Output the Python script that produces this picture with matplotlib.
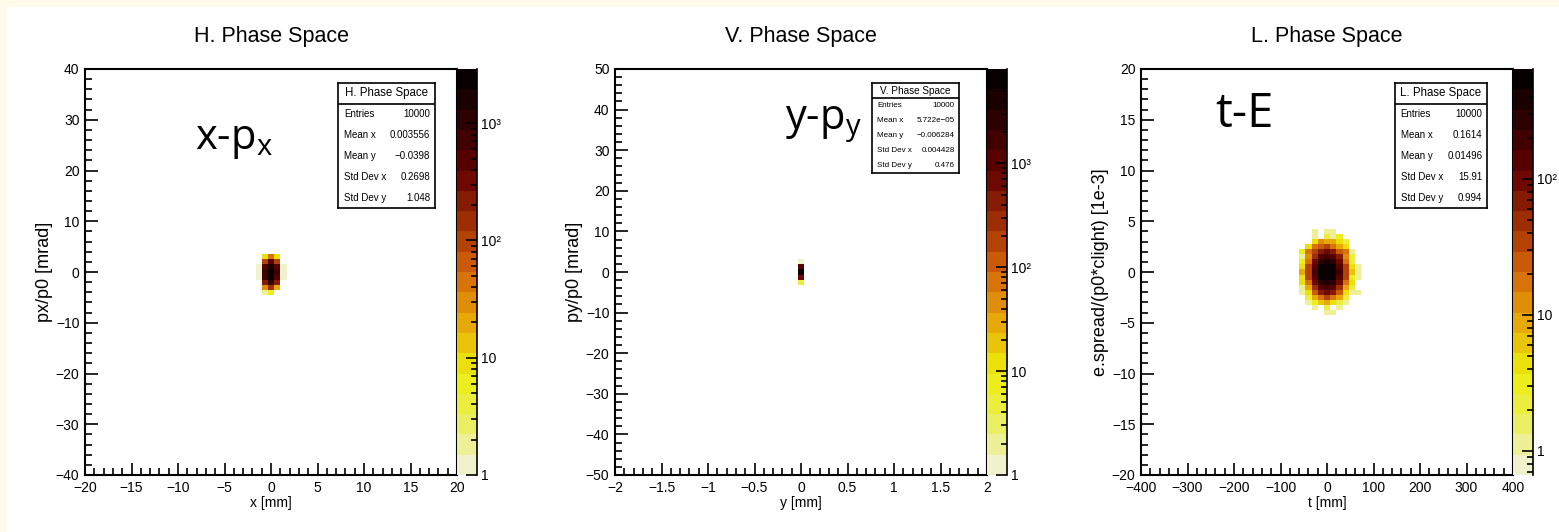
import numpy as np
import matplotlib.pyplot as plt
from matplotlib.colors import LinearSegmentedColormap, ListedColormap, LogNorm
from matplotlib.patches import Rectangle
from matplotlib.ticker import MultipleLocator, FuncFormatter, LogLocator, FixedLocator

plt.rcParams['font.family'] = ['Liberation Sans', 'DejaVu Sans']
plt.rcParams['mathtext.fontset'] = 'custom'
plt.rcParams['mathtext.rm'] = 'Open Sans'

W, H = 1559, 532

# --- chart data ---
titles = ["H. Phase Space", "V. Phase Space", "L. Phase Space"]
big_labels = [r"x-p$_\mathrm{x}$", r"y-p$_\mathrm{y}$", "t-E"]
x_titles = ["x [mm]", "y [mm]", "t [mm]"]
y_titles = ["px/p0 [mrad]", "py/p0 [mrad]", "e.spread/(p0*clight) [1e-3]"]
x_ranges = [(-20, 20), (-2, 2), (-400, 400)]
y_ranges = [(-40, 40), (-50, 50), (-20, 20)]
nbins_x, nbins_y = 60, 80

stat_names = ["Entries", "Mean x", "Mean y", "Std Dev x", "Std Dev y"]
h_stats = ["10000", "0.003556", "\u22120.0398", "0.2698", "1.048"]
v_stats = ["10000", "5.722e\u221205", "\u22120.006284", "0.004428", "0.476"]
l_stats = ["10000", "0.1614", "0.01496", "15.91", "0.994"]

# bin indices (bin centre = index * bin width), rows listed from top to bottom
h_cols = [-2, -1, 0, 1, 2]
h_rows = [3, 2, 1, 0, -1, -2, -3, -4]
h_counts = [
    [0, 8, 45, 10, 0],
    [0, 90, 420, 100, 0],
    [1, 480, 1600, 450, 1],
    [1, 620, 2900, 650, 1],
    [1, 600, 2500, 580, 1],
    [0, 220, 900, 240, 0],
    [0, 35, 120, 20, 0],
    [0, 2, 6, 0, 0],
]

v_cols = [0]
v_rows = [2, 1, 0, -1, -2]
v_counts = [[1], [1000], [8100], [850], [6]]

l_cols = [-4, -3, -2, -1, 0, 1, 2, 3, 4, 5]
l_rows = [8, 7, 6, 5, 4, 3, 2, 1, 0, -1, -2, -3, -4, -5, -6, -7, -8]
l_counts = [
    [0, 0, 1, 0, 1, 1, 0, 0, 0, 0],
    [0, 0, 1, 0, 2, 1, 3, 0, 0, 0],
    [0, 0, 4, 12, 10, 8, 5, 2, 0, 0],
    [0, 4, 20, 25, 30, 20, 10, 4, 0, 0],
    [3, 15, 30, 70, 90, 70, 25, 15, 1, 0],
    [1, 12, 55, 150, 200, 150, 60, 12, 2, 0],
    [3, 20, 110, 280, 390, 280, 100, 20, 2, 0],
    [4, 30, 150, 470, 560, 460, 150, 30, 4, 1],
    [10, 35, 170, 460, 640, 470, 170, 30, 6, 1],
    [5, 30, 150, 460, 570, 470, 150, 30, 3, 1],
    [5, 20, 100, 280, 390, 280, 100, 20, 5, 0],
    [1, 10, 55, 150, 210, 150, 55, 10, 2, 0],
    [1, 5, 25, 70, 90, 65, 25, 5, 1, 1],
    [0, 2, 8, 20, 30, 20, 8, 2, 0, 0],
    [0, 1, 3, 6, 8, 4, 2, 1, 0, 0],
    [0, 0, 1, 0, 2, 0, 1, 0, 0, 0],
    [0, 0, 0, 0, 1, 1, 0, 0, 0, 0],
]

z_min = [1, 1, 0.665]

# ROOT kDarkBodyRadiator, inverted, 20 levels
dbr = [(0, 0, 0), (45, 0, 1), (99, 0, 1), (156, 45, 3), (212, 101, 9),
       (230, 168, 8), (237, 238, 11), (234, 238, 95), (242, 243, 230)]
base = LinearSegmentedColormap.from_list("dbr", [tuple(c / 255 for c in rgb) for rgb in dbr])
palette = ListedColormap([base(1 - (i + 0.5) / 20) for i in range(20)])


def px_rect(left, top, width, height):
    return [left / W, 1 - (top + height) / H, width / W, height / H]


def fmt_num(v, pos=None):
    return ("%g" % v).replace("-", "\u2212")


def fmt_pow(v, pos=None):
    e = int(round(np.log10(v)))
    return {0: "1", 1: "10", 2: "10\u00b2", 3: "10\u00b3", 4: "10\u2074"}[e]


fig = plt.figure(figsize=(W / 100, H / 100), dpi=100)
fig.patch.set_facecolor("#fffbea")
fig.add_artist(Rectangle((7 / W, 0), 1, (H - 7) / H, transform=fig.transFigure,
                         facecolor="white", edgecolor="none", zorder=-10))

ax_left = [85, 615, 1141]
ax_top, ax_w, ax_h = 69, 372, 406
cb_w = 20
major_x = [5, 0.5, 100]
minor_x = [1, 0.1, 20]
major_y = [10, 10, 5]
minor_y = [2, 2, 1]
ylab_x = [-0.085, -0.085, -0.085]
big_pos = [(195, 140), (785, 124), (1215, 114)]
big_size = [30, 30, 34]
box_px = [(338, 83, 97, 125), (872, 83, 87, 90), (1395, 83, 92, 125)]
box_font = [(8.3, 7), (7.2, 5.8), (8.3, 7)]
all_stats = [h_stats, v_stats, l_stats]
grids = [(h_cols, h_rows, h_counts), (v_cols, v_rows, v_counts), (l_cols, l_rows, l_counts)]

for i in range(3):
    ax = fig.add_axes(px_rect(ax_left[i], ax_top, ax_w, ax_h))
    cols, rows, counts = grids[i]
    bw_x = (x_ranges[i][1] - x_ranges[i][0]) / nbins_x
    bw_y = (y_ranges[i][1] - y_ranges[i][0]) / nbins_y
    xe = (np.array(cols + [cols[-1] + 1]) - 0.5) * bw_x
    ye = (np.array(rows + [rows[-1] - 1]) + 0.5) * bw_y
    c = np.ma.masked_equal(np.array(counts, dtype=float), 0)
    norm = LogNorm(vmin=z_min[i], vmax=c.max())
    mesh = ax.pcolormesh(xe, ye, c, cmap=palette, norm=norm)

    ax.set_xlim(*x_ranges[i])
    ax.set_ylim(*y_ranges[i])
    ax.xaxis.set_major_locator(MultipleLocator(major_x[i]))
    ax.xaxis.set_minor_locator(MultipleLocator(minor_x[i]))
    ax.yaxis.set_major_locator(MultipleLocator(major_y[i]))
    ax.yaxis.set_minor_locator(MultipleLocator(minor_y[i]))
    ax.xaxis.set_major_formatter(FuncFormatter(fmt_num))
    ax.yaxis.set_major_formatter(FuncFormatter(fmt_num))
    ax.tick_params(which="major", direction="in", length=9, width=1.2, labelsize=10, pad=4)
    ax.tick_params(which="minor", direction="in", length=5, width=1.2)
    for s in ax.spines.values():
        s.set_linewidth(1.5)
    ax.set_xlabel(x_titles[i], fontsize=10, labelpad=1)
    ax.set_ylabel(y_titles[i], fontsize=13)
    ax.yaxis.set_label_coords(ylab_x[i], 0.5)
    ax.set_title(titles[i], fontsize=15.5, pad=19.5)

    # palette
    cax = fig.add_axes(px_rect(ax_left[i] + ax_w, ax_top, cb_w, ax_h))
    cb = fig.colorbar(mesh, cax=cax)
    cb.outline.set_visible(False)
    cax.spines["right"].set_visible(True)
    cax.spines["right"].set_linewidth(1.2)
    decades = [10.0 ** e for e in range(-1, 6) if z_min[i] <= 10.0 ** e <= c.max()]
    cax.yaxis.set_major_locator(FixedLocator(decades))
    cax.yaxis.set_minor_locator(LogLocator(base=10, subs=np.arange(2, 10), numticks=30))
    cax.yaxis.set_major_formatter(FuncFormatter(fmt_pow))
    cax.yaxis.set_minor_formatter(FuncFormatter(lambda v, p: ""))
    cax.tick_params(which="major", direction="in", length=8, width=1.2, labelsize=10, pad=3)
    cax.tick_params(which="minor", direction="in", length=4, width=1.2)

    # big annotation
    bx, by = big_pos[i]
    fig.text(bx / W, 1 - by / H, big_labels[i], fontsize=big_size[i], family="Open Sans",
             ha="left", va="center")

    # stats box
    l, t, w, h = box_px[i]
    sax = fig.add_axes(px_rect(l, t, w, h))
    sax.set_xticks([])
    sax.set_yticks([])
    sax.set_xlim(0, 1)
    sax.set_ylim(0, 6)
    for s in sax.spines.values():
        s.set_linewidth(1.2)
    sax.axhline(5, color="black", lw=1.2)
    sax.text(0.5, 5.5, titles[i], ha="center", va="center", fontsize=box_font[i][0])
    for r in range(5):
        yy = 4.5 - r
        sax.text(0.06, yy, stat_names[r], ha="left", va="center", fontsize=box_font[i][1])
        sax.text(0.95, yy, all_stats[i][r], ha="right", va="center", fontsize=box_font[i][1])

fig.savefig("out.png", dpi=100)
